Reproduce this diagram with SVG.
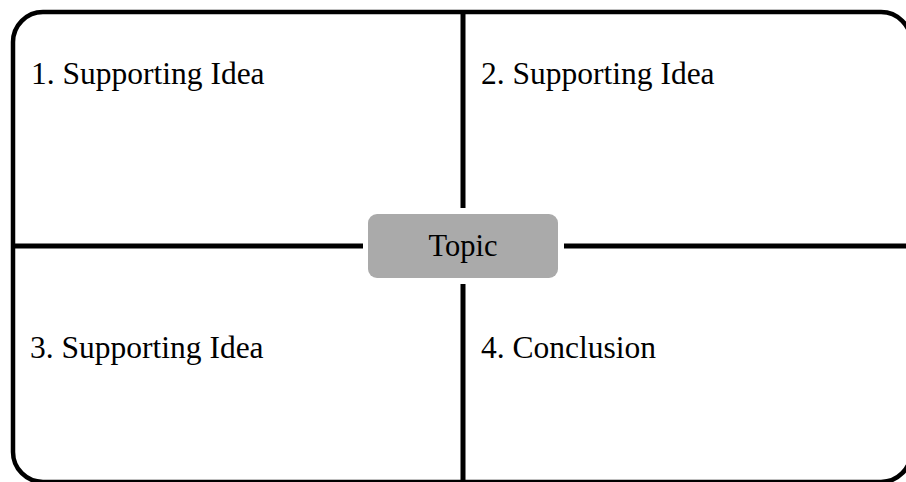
<svg xmlns="http://www.w3.org/2000/svg" width="906" height="482" viewBox="0 0 906 482">
<style>
.frame{fill:none;stroke:#000;stroke-width:4.5}
.line{stroke:#000;stroke-width:5;fill:none}
.lbl{font-family:"Liberation Serif","Times New Roman",serif;font-size:31.5px;fill:#000}
.topic{fill:#aaaaaa;stroke:none}
</style>
<rect width="906" height="482" fill="#fff"/>
<g id="connectors">
<line class="line" x1="463" y1="12" x2="463" y2="208"/>
<line class="line" x1="463" y1="284" x2="463" y2="482"/>
<line class="line" x1="13" y1="246" x2="363" y2="246"/>
<line class="line" x1="564" y1="246" x2="906" y2="246"/>
</g>
<g id="frame">
<rect class="frame" x="13" y="12" width="898" height="470" rx="30"/>
</g>
<g id="idea1"><text class="lbl" x="31" y="84">1. Supporting Idea</text></g>
<g id="idea2"><text class="lbl" x="481" y="84">2. Supporting Idea</text></g>
<g id="idea3"><text class="lbl" x="30" y="358">3. Supporting Idea</text></g>
<g id="conclusion"><text class="lbl" x="481" y="358">4. Conclusion</text></g>
<g id="topic">
<rect class="topic" x="368" y="214" width="190" height="64" rx="9"/>
<text class="lbl" x="463" y="256" text-anchor="middle" style="font-size:30.5px">Topic</text>
</g>
</svg>
